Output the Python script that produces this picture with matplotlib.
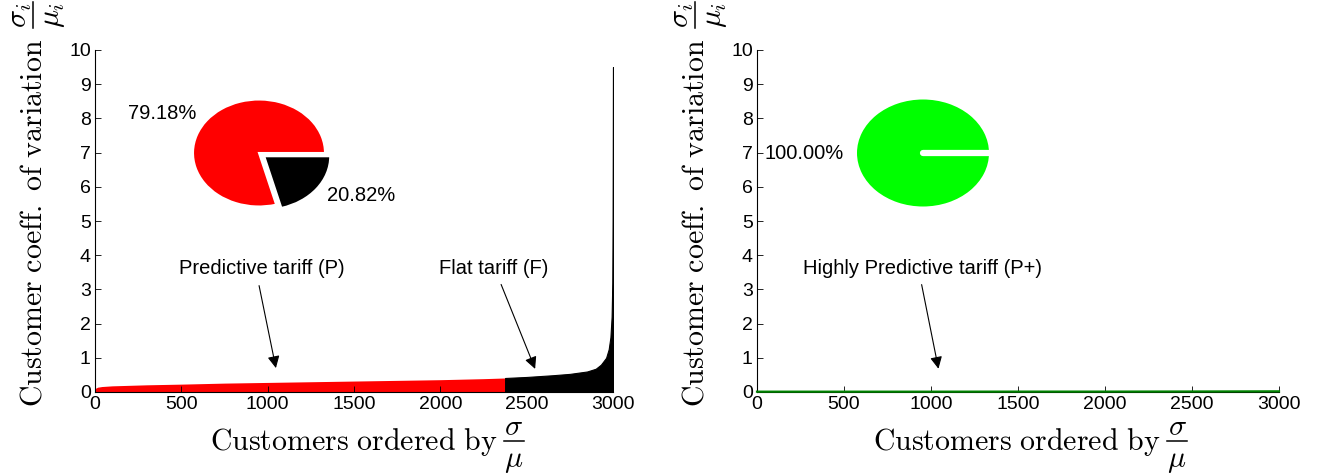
import numpy as np
import matplotlib
matplotlib.use('Agg')
import matplotlib.pyplot as plt
from matplotlib.lines import Line2D

plt.rcParams['font.family'] = ['Liberation Sans', 'DejaVu Sans']
plt.rcParams['mathtext.fontset'] = 'cm'

# sorted coefficient of variation per customer
pred_x = [0, 15, 40, 100, 300, 500, 750, 1000, 1250, 1500, 1750, 2000, 2250, 2375]
pred_cv = [0.10, 0.14, 0.16, 0.18, 0.21, 0.23, 0.26, 0.28, 0.30, 0.32, 0.34, 0.36, 0.39, 0.41]
flat_x = [2375, 2500, 2650, 2750, 2850, 2900, 2930, 2960, 2975, 2985, 2992, 2996, 2998, 2999, 3000]
flat_cv = [0.41, 0.44, 0.49, 0.53, 0.60, 0.68, 0.80, 1.0, 1.25, 1.6, 2.2, 3.2, 5.0, 7.0, 9.5]
phigh_x = [0, 500, 1000, 1500, 2000, 2500, 3000]
phigh_cv = [0.01, 0.01, 0.01, 0.012, 0.012, 0.015, 0.02]

share_left = [79.18, 20.82]
share_right = [100.0]

xticks = [0, 500, 1000, 1500, 2000, 2500, 3000]
yticks = list(range(0, 11))

W, H = 1319, 476
fig = plt.figure(figsize=(W / 100, H / 100), dpi=100)

def px(x0, y0, x1, y1):
    return [x0 / W, 1 - y1 / H, (x1 - x0) / W, (y1 - y0) / H]

def ftext(x, y, s, **kw):
    # text placed in pixel coords of the figure (y from top)
    return fig.text(x / W, 1 - y / H, s, **kw)

def fline(x0, y0, x1, y1):
    fig.add_artist(Line2D([x0 / W, x1 / W], [1 - y0 / H, 1 - y1 / H],
                          transform=fig.transFigure, color='black', lw=1.1))

LAB = 21.5

def xlabel_at(x0, base):
    ftext(x0, base, r'$\mathrm{Customers\ ordered\ by}$', fontsize=LAB, ha='left', va='baseline')
    fx = x0 + 304
    bar = base - 9
    ftext(fx, bar - 6, r'$\sigma$', fontsize=LAB, ha='center', va='baseline')
    fline(fx - 10, bar, fx + 10, bar)
    ftext(fx, bar + 6, r'$\mu$', fontsize=LAB, ha='center', va='top')

def ylabel_at(base, y0):
    ftext(base, y0, r'$\mathrm{Customer\ coeff.\ of\ variation}$', fontsize=LAB,
          rotation=90, rotation_mode='anchor', ha='left', va='baseline')
    fy = 15
    bar = base - 9
    ftext(bar - 6, fy, r'$\sigma_i$', fontsize=LAB, rotation=90,
          rotation_mode='anchor', ha='center', va='baseline')
    fline(bar, fy - 13, bar, fy + 13)
    ftext(bar + 6, fy, r'$\mu_i$', fontsize=LAB, rotation=90,
          rotation_mode='anchor', ha='center', va='top')

def style_axes(ax):
    ax.set_xlim(0, 3000)
    ax.set_ylim(0, 10)
    ax.set_xticks(xticks)
    ax.set_yticks(yticks)
    ax.spines['top'].set_visible(False)
    ax.spines['right'].set_visible(False)
    ax.spines['left'].set_linewidth(0.8)
    ax.spines['bottom'].set_linewidth(0.8)
    ax.tick_params(direction='in', length=4, width=0.6, labelsize=14, pad=3)

ax1 = fig.add_axes(px(95, 50, 613, 392))
ax1.fill_between(pred_x, pred_cv, color='red', lw=0)
ax1.fill_between(flat_x, flat_cv, color='black', lw=0.8)
style_axes(ax1)
ax1.text(967, 3.6, 'Predictive tariff (P)', ha='center', va='center', fontsize=14.5)
ax1.annotate('', xy=(1051, 0.62), xytext=(947, 3.19),
             arrowprops=dict(arrowstyle='-|>', color='black', lw=0.8, mutation_scale=18))
ax1.text(2308, 3.6, 'Flat tariff (F)', ha='center', va='center', fontsize=14.5)
ax1.annotate('', xy=(2555, 0.6), xytext=(2346, 3.22),
             arrowprops=dict(arrowstyle='-|>', color='black', lw=0.8, mutation_scale=18))

ax2 = fig.add_axes(px(757, 50, 1279, 392))
ax2.fill_between(phigh_x, phigh_cv, color='#00c000', lw=0)
ax2.plot(phigh_x, phigh_cv, color='#008000', lw=1.6, zorder=3, clip_on=False)
style_axes(ax2)
ax2.text(954, 3.6, 'Highly Predictive tariff (P+)', ha='center', va='center', fontsize=14.5)
ax2.annotate('', xy=(1046, 0.6), xytext=(943, 3.22),
             arrowprops=dict(arrowstyle='-|>', color='black', lw=0.8, mutation_scale=18))

xlabel_at(210, 450)
xlabel_at(873, 450)
ylabel_at(42, 407)
ylabel_at(704, 407)

# pie insets (elliptical like the original)
rx, ry = 66, 53.5
pa = fig.add_axes(px(259 - 1.5 * rx, 153 - 1.5 * ry, 259 + 1.5 * rx, 153 + 1.5 * ry))
pa.pie(share_left, colors=['red', 'black'], explode=[0, 0.1], startangle=0,
       labels=['%.2f%%' % s for s in share_left], labeldistance=1.2,
       wedgeprops=dict(edgecolor='white', linewidth=1.5),
       textprops=dict(fontsize=14.5))
pa.set_aspect('auto')
pa.set_xlim(-1.5, 1.5)
pa.set_ylim(-1.5, 1.5)
pa.axis('off')

pb = fig.add_axes(px(923 - 1.5 * rx, 153 - 1.5 * ry, 923 + 1.5 * rx, 153 + 1.5 * ry))
pb.pie(share_right, colors=['#00ff00'], startangle=0,
       labels=['%.2f%%' % s for s in share_right], labeldistance=1.2,
       textprops=dict(fontsize=14.5))
pb.plot([0, 1.02], [0, 0], color='white', lw=4.5, solid_capstyle='round')
pb.set_aspect('auto')
pb.set_xlim(-1.5, 1.5)
pb.set_ylim(-1.5, 1.5)
pb.axis('off')

fig.savefig('out.png', dpi=100)
